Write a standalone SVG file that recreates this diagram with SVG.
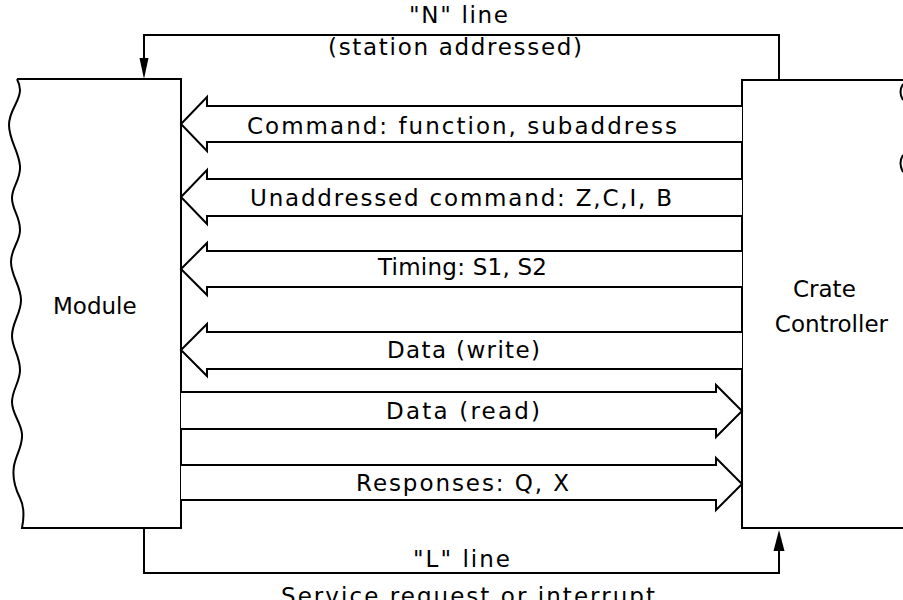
<svg xmlns="http://www.w3.org/2000/svg" width="903" height="600" viewBox="0 0 903 600">
  <style>
    .ln { fill: none; stroke: #000; stroke-width: 2; stroke-linejoin: miter; }
    .blk { fill: #fff; stroke: #000; stroke-width: 2; stroke-linejoin: miter; }
    .head { fill: #000; stroke: none; }
    text { font-family: "DejaVu Sans", "Liberation Sans", sans-serif; font-size: 23px; fill: #000; }
  </style>
  <rect x="0" y="0" width="903" height="600" fill="#fff"/>

  <!-- Module: open box with wavy left edge -->
  <g id="module">
    <path class="ln" d="M17,79 H181 V528 H22
      C24,518 25,508 20,498 C15,488 12,478 14,466 C16,454 23,446 22,434 C21,422 12,414 12,402 C12,390 20,382 20,370 C20,356 12,348 12,336 C12,322 21,314 21,300 C21,286 11,276 11,262 C11,248 20,242 20,230 C20,216 12,210 12,198 C12,186 21,180 20,166 C19,152 9,140 9,125 C9,110 20,102 20,90 C20,85 18,81 17,79"/>
    <text x="53" y="314">Module</text>
  </g>

  <!-- Crate Controller: box running off the right edge -->
  <g id="crate-controller">
    <path class="ln" d="M903,80 H742 V528 H903"/>
    <path class="ln" d="M903,84 Q898,92 903,100 M903,155 Q898,163 903,172"/>
    <text x="793" y="297">Crate</text>
    <text x="888" y="332" text-anchor="end">Controller</text>
  </g>

  <g id="connectors">
    <!-- "N" line: controller to module -->
    <g id="n-line">
      <path class="ln" d="M779,80 V35 H144 V62"/>
      <path class="head" d="M139.5,58 L148.5,58 L144,79 Z"/>
      <text x="409" y="23" textLength="99">"N" line</text>
      <text x="328" y="55" textLength="254">(station  addressed)</text>
    </g>

    <!-- "L" line: module to controller -->
    <g id="l-line">
      <path class="ln" d="M144,528 V573 H779 V548"/>
      <path class="head" d="M773.5,551 L784.5,551 L779,530 Z"/>
      <text x="413" y="567" textLength="97">"L" line</text>
      <text x="281" y="604" textLength="374">Service  request  or  interrupt</text>
    </g>

    <!-- bus signals, controller to module -->
    <g id="command">
      <path class="blk" d="M742,106 H207 V97 L181,124 L207,151 V142 H742"/>
      <text x="247" y="134" textLength="430">Command:  function,  subaddress</text>
    </g>
    <g id="unaddressed-command">
      <path class="blk" d="M742,179 H207 V170 L181,197 L207,224 V216 H742"/>
      <text x="250" y="206" textLength="422">Unaddressed  command:  Z,C,I, B</text>
    </g>
    <g id="timing">
      <path class="blk" d="M742,251 H207 V243 L181,269 L207,295 V287 H742"/>
      <text x="378" y="275" textLength="169">Timing: S1, S2</text>
    </g>
    <g id="data-write">
      <path class="blk" d="M742,332 H207 V324 L181,350 L207,376 V369 H742"/>
      <text x="387" y="358" textLength="153">Data (write)</text>
    </g>

    <!-- bus signals, module to controller -->
    <g id="data-read">
      <path class="blk" d="M181,392 H716 V385 L742,411 L716,437 V429 H181"/>
      <text x="386" y="419" textLength="154">Data  (read)</text>
    </g>
    <g id="responses">
      <path class="blk" d="M181,465 H716 V458 L742,484 L716,510 V500 H181"/>
      <text x="356" y="491" textLength="213">Responses:  Q,  X</text>
    </g>
  </g>
</svg>
